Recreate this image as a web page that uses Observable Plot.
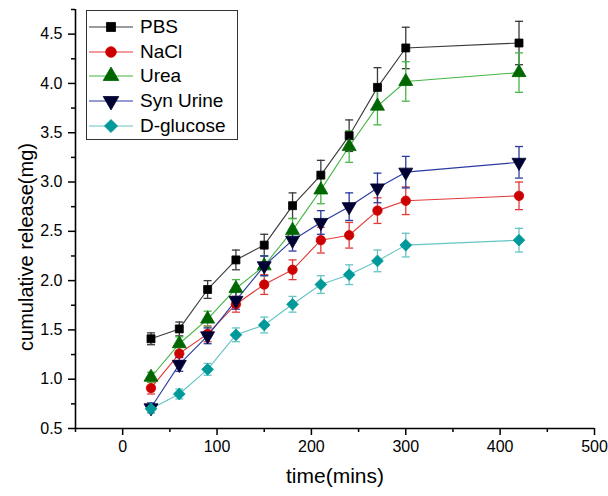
<!DOCTYPE html>
<html>
<head>
<meta charset="utf-8">
<script src="https://cdn.jsdelivr.net/npm/d3@7"></script>
<script src="https://cdn.jsdelivr.net/npm/@observablehq/plot@0.6"></script>
<style>
  html, body { margin: 0; padding: 0; background: #fff; }
  #wrap { position: relative; width: 608px; height: 496px; font-family: "Liberation Sans", Arial, sans-serif; }
  #legend { position: absolute; left: 86px; top: 10px; width: 152px; height: 130px; border: 1.5px solid #333; background: #fff; box-sizing: border-box; padding-top: 4px; }
  .row { display: flex; align-items: center; height: 24.6px; }
  .row span { font-size: 19px; color: #000; margin-left: 5px; }
</style>
</head>
<body>
<div id="wrap"></div>
<script>
// ---- data ----
const times = [30, 60, 90, 120, 150, 180, 210, 240, 270, 300, 420];
const seriesNames = ["PBS", "NaCl", "Urea", "Syn Urine", "D-glucose"];
const pbs      = [1.41, 1.51, 1.91, 2.21, 2.36, 2.76, 3.07, 3.47, 3.96, 4.36, 4.41];
const nacl     = [0.91, 1.26, 1.46, 1.76, 1.96, 2.11, 2.41, 2.46, 2.71, 2.81, 2.86];
const urea     = [1.02, 1.36, 1.61, 1.92, 2.15, 2.51, 2.92, 3.36, 3.77, 4.02, 4.11];
const synUrine = [0.71, 1.15, 1.44, 1.80, 2.15, 2.41, 2.59, 2.75, 2.94, 3.10, 3.20];
const glucose  = [0.70, 0.85, 1.10, 1.45, 1.55, 1.76, 1.96, 2.06, 2.20, 2.36, 2.41];
const pbsErr      = [0.06, 0.07, 0.09, 0.10, 0.11, 0.13, 0.15, 0.16, 0.20, 0.21, 0.22];
const naclErr     = [0.06, 0.07, 0.08, 0.08, 0.10, 0.10, 0.13, 0.13, 0.13, 0.14, 0.14];
const ureaErr     = [0.05, 0.07, 0.08, 0.09, 0.10, 0.12, 0.14, 0.16, 0.19, 0.20, 0.20];
const synUrineErr = [0.05, 0.07, 0.08, 0.09, 0.10, 0.11, 0.12, 0.14, 0.15, 0.16, 0.16];
const glucoseErr  = [0.04, 0.05, 0.06, 0.07, 0.08, 0.08, 0.09, 0.10, 0.11, 0.12, 0.12];
const xMajorTicks = [0, 100, 200, 300, 400, 500];
const xMinorTicks = [-50, 50, 150, 250, 350, 450];
const yMajorTicks = [0.5, 1.0, 1.5, 2.0, 2.5, 3.0, 3.5, 4.0, 4.5];
const yMinorTicks = [0.75, 1.25, 1.75, 2.25, 2.75, 3.25, 3.75, 4.25, 4.75];
const xDomain = [-50, 500];
const yDomain = [0.5, 4.75];
const xLabel = "time(mins)";
const yLabel = "cumulative release(mg)";

// ---- styles ----
const triangleDown = {
  draw(context, size) {
    const y = -Math.sqrt(size / (Math.sqrt(3) * 3));
    context.moveTo(0, -y * 2);
    context.lineTo(-Math.sqrt(3) * y, y);
    context.lineTo(Math.sqrt(3) * y, y);
    context.closePath();
  }
};
const capSymbol = {
  draw(context, size) {
    const w = Math.sqrt(size) / 2;
    context.moveTo(-w, 0);
    context.lineTo(w, 0);
  }
};
const styles = {
  "PBS":       {line: "#3a3a3a", fill: "#000000", symbol: d3.symbolSquare, r: 4.5},
  "NaCl":      {line: "#e23a3a", fill: "#cc0000", symbol: d3.symbolCircle, r: 4.7},
  "Urea":      {line: "#45b545", fill: "#006600", symbol: d3.symbolTriangle, r: 5.2},
  "Syn Urine": {line: "#2a3aa0", fill: "#000033", symbol: triangleDown, r: 5.2},
  "D-glucose": {line: "#66c4c4", fill: "#009999", symbol: d3.symbolDiamond2, r: 5.3}
};
const values = [pbs, nacl, urea, synUrine, glucose];
const errs = [pbsErr, naclErr, ureaErr, synUrineErr, glucoseErr];

const table = [];
seriesNames.forEach((name, i) => {
  times.forEach((t, j) => {
    table.push({series: name, t, v: values[i][j], e: errs[i][j]});
  });
});

const marks = [];
// axes
marks.push(Plot.axisX({ticks: xMajorTicks, tickSize: 7, tickPadding: 5, fontSize: 16, label: null, strokeWidth: 1.5}));
marks.push(Plot.axisX({ticks: xMinorTicks, tickSize: 4, tickFormat: () => "", label: null, strokeWidth: 1.5}));
marks.push(Plot.axisY({ticks: yMajorTicks, tickSize: 7, tickPadding: 6, fontSize: 16, label: null, tickFormat: d3.format(".1f"), strokeWidth: 1.5}));
marks.push(Plot.axisY({ticks: yMinorTicks, tickSize: 4, tickFormat: () => "", label: null, strokeWidth: 1.5}));
marks.push(Plot.ruleX([xDomain[0]], {stroke: "#000", strokeWidth: 1.6}));
marks.push(Plot.ruleY([yDomain[0]], {stroke: "#000", strokeWidth: 1.6}));
marks.push(Plot.text([xLabel], {frameAnchor: "bottom", dy: 54, text: d => d, fontSize: 21, fill: "#000"}));

seriesNames.forEach(name => {
  const s = styles[name];
  const data = table.filter(d => d.series === name);
  marks.push(Plot.line(data, {x: "t", y: "v", stroke: s.line, strokeWidth: 1.1}));
});
seriesNames.forEach(name => {
  const s = styles[name];
  const data = table.filter(d => d.series === name);
  marks.push(Plot.ruleX(data, {x: "t", y1: d => d.v - d.e, y2: d => d.v + d.e, stroke: s.line, strokeWidth: 1.3}));
  marks.push(Plot.dot(data, {x: "t", y: d => d.v + d.e, symbol: capSymbol, r: 4.5, fill: "none", stroke: s.line, strokeWidth: 1.3}));
  marks.push(Plot.dot(data, {x: "t", y: d => d.v - d.e, symbol: capSymbol, r: 4.5, fill: "none", stroke: s.line, strokeWidth: 1.3}));
});
seriesNames.forEach(name => {
  const s = styles[name];
  const data = table.filter(d => d.series === name);
  marks.push(Plot.dot(data, {x: "t", y: "v", symbol: s.symbol, r: s.r, fill: s.fill, stroke: s.fill, strokeWidth: 0.8}));
});

const chart = Plot.plot({
  width: 608,
  height: 496,
  marginLeft: 75,
  marginRight: 14,
  marginTop: 9,
  marginBottom: 68,
  style: {fontFamily: "'Liberation Sans', Arial, sans-serif", fontSize: "16px", color: "#000", background: "#fff"},
  x: {domain: xDomain, axis: null},
  y: {domain: yDomain, axis: null},
  marks
});

// y-axis title (rotated), placed beside the axis
d3.select(chart).append("text")
  .attr("transform", "translate(33,247) rotate(-90)")
  .attr("text-anchor", "middle")
  .attr("font-size", 20)
  .attr("fill", "#000")
  .text(yLabel);

const wrap = document.getElementById("wrap");
wrap.appendChild(chart);

// legend (HTML overlay)
const legend = document.createElement("div");
legend.id = "legend";
seriesNames.forEach(name => {
  const s = styles[name];
  const row = document.createElement("div");
  row.className = "row";
  const svg = d3.create("svg").attr("width", 48).attr("height", 20);
  svg.append("line").attr("x1", 2).attr("x2", 46).attr("y1", 10).attr("y2", 10).attr("stroke", s.line).attr("stroke-width", 1.2);
  svg.append("path")
    .attr("transform", "translate(24,10)")
    .attr("d", d3.symbol(s.symbol, Math.PI * (s.r + 0.6) * (s.r + 0.6))())
    .attr("fill", s.fill).attr("stroke", s.fill).attr("stroke-width", 0.8);
  row.appendChild(svg.node());
  const span = document.createElement("span");
  span.textContent = name;
  row.appendChild(span);
  legend.appendChild(row);
});
wrap.appendChild(legend);
</script>
</body>
</html>
